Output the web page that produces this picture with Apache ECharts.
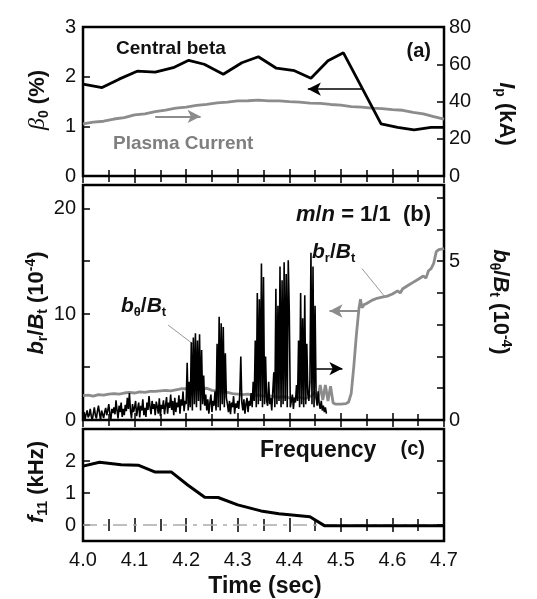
<!DOCTYPE html>
<html>
<head>
<meta charset="utf-8">
<script src="https://cdn.jsdelivr.net/npm/echarts@6/dist/echarts.min.js"></script>
<style>
  html, body { margin: 0; padding: 0; background: #fff; }
  #chart { width: 537px; height: 599px; }
</style>
</head>
<body>
<div id="chart"></div>
<script>
// (a) central beta (%) and plasma current (kA)
var betaTime = [4.000, 4.037, 4.070, 4.105, 4.140, 4.175, 4.205, 4.235, 4.272, 4.308, 4.340,
                4.375, 4.410, 4.442, 4.475, 4.505, 4.578, 4.610, 4.642, 4.675, 4.700];
var betaVal = [1.85, 1.78, 1.95, 2.11, 2.09, 2.18, 2.33, 2.25, 2.05, 2.28, 2.40,
               2.17, 2.12, 1.97, 2.32, 2.48, 1.05, 0.98, 0.93, 0.98, 0.98];
var ipTime = [4.00, 4.02, 4.04, 4.06, 4.08, 4.10, 4.12, 4.14, 4.16, 4.18, 4.20, 4.22, 4.24,
              4.26, 4.28, 4.30, 4.32, 4.34, 4.36, 4.38, 4.40, 4.42, 4.44, 4.46, 4.48, 4.50,
              4.52, 4.54, 4.56, 4.58, 4.60, 4.62, 4.64, 4.66, 4.68, 4.70];
var ipVal = [28.0, 28.9, 29.4, 30.6, 31.3, 32.8, 33.4, 34.6, 35.4, 36.4, 37.0, 37.9, 38.5,
             39.3, 39.7, 40.3, 40.4, 40.7, 40.3, 40.3, 39.9, 39.7, 39.1, 39.0, 38.4, 38.1,
             37.3, 37.0, 36.4, 36.2, 35.6, 35.3, 34.2, 33.4, 31.9, 30.5];

// (b) b_theta/B_t sampled every 2 ms from 4.000 s (right axis, 1e-4)
var bthStart = 4.0;
var bthStep = 0.002;
var bthVal = [
  0.10, 0.25, 0.02, 0.18, 0.30, 0.08, 0.15, 0.35, 0.12, 0.00,
  0.20, 0.40, 0.15, 0.05, 0.28, 0.45, 0.22, 0.00, 0.30, 0.18,
  0.06, 0.25, 0.38, 0.15, 0.30, 0.50, 0.20, 0.02, 0.35, 0.22,
  0.40, 0.18, 0.62, 0.30, 0.05, 0.45, 0.25, 0.55, 0.10, 0.35,
  0.15, 0.48, 0.28, 0.70, 0.35, 0.85, 0.30, 0.05, 0.50, 0.25,
  0.40, 0.60, 0.12, 0.35, 0.55, 0.08, 0.45, 0.30, 0.65, 0.15,
  0.38, 0.10, 0.55, 0.32, 0.75, 0.40, 0.18, 0.60, 0.35, 0.50,
  0.15, 0.58, 0.42, 0.20, 0.68, 0.12, 0.48, 0.35, 0.62, 0.18,
  0.45, 0.72, 0.20, 0.55, 0.38, 0.80, 0.32, 0.60, 0.15, 0.70,
  0.25, 0.55, 0.40, 0.78, 0.20, 0.65, 0.45, 0.90, 0.28, 0.60,
  0.50, 1.80, 0.30, 1.20, 0.40, 2.45, 0.30, 2.60, 0.50, 2.73,
  0.40, 2.50, 0.60, 2.70, 0.30, 2.20, 0.50, 1.40, 0.45, 0.80,
  0.30, 0.65, 0.20, 0.55, 0.80, 0.25, 0.60, 0.45, 0.90, 0.30,
  2.40, 0.40, 3.25, 0.30, 3.05, 0.50, 2.93, 0.40, 2.10, 0.70,
  0.50, 0.25, 0.60, 0.18, 0.55, 0.40, 0.75, 0.20, 0.52, 0.38,
  0.60, 0.35, 0.80, 2.00, 0.55, 0.30, 0.65, 0.20, 0.50, 0.70,
  0.25, 0.60, 0.45, 0.85, 0.40, 1.20, 0.60, 2.50, 0.40, 4.00,
  0.50, 3.80, 0.60, 4.93, 0.40, 4.50, 0.50, 2.00, 0.60, 0.45,
  1.20, 0.50, 0.70, 0.30, 0.90, 1.50, 0.40, 4.13, 0.50, 3.60,
  0.60, 4.83, 0.40, 4.40, 0.50, 4.97, 0.60, 4.60, 0.40, 5.03,
  3.40, 0.40, 0.60, 0.80, 0.35, 0.70, 0.55, 1.10, 0.60, 2.50,
  0.40, 4.00, 0.50, 3.20, 0.40, 3.93, 0.50, 2.40, 0.80, 0.60,
  1.20, 5.27, 0.50, 4.83, 0.40, 3.60, 0.70, 0.45, 0.90, 0.50,
  0.35, 0.60, 0.30, 0.45, 0.25, 0.40, 0.20
];
// (b) b_r/B_t (left axis, 1e-4)
var brTime = [4.00, 4.01, 4.02, 4.03, 4.04, 4.05, 4.06, 4.07, 4.08, 4.09,
              4.10, 4.11, 4.12, 4.13, 4.14, 4.15, 4.16, 4.17, 4.18, 4.19,
              4.20, 4.21, 4.22, 4.23, 4.24, 4.25, 4.26, 4.27, 4.28, 4.29,
              4.30, 4.31, 4.32, 4.33, 4.34, 4.35, 4.36, 4.37, 4.38, 4.39,
              4.40, 4.41, 4.42, 4.43, 4.44, 4.45, 4.455, 4.46, 4.465, 4.47,
              4.475, 4.48, 4.485, 4.49, 4.50, 4.51, 4.515, 4.52, 4.525, 4.53,
              4.535, 4.538, 4.541, 4.545, 4.55, 4.56, 4.57, 4.58, 4.59, 4.60,
              4.61, 4.615, 4.62, 4.63, 4.64, 4.65, 4.66, 4.665, 4.67, 4.675,
              4.68, 4.685, 4.69, 4.70];
var brVal = [2.30, 2.35, 2.25, 2.40, 2.35, 2.45, 2.50, 2.45, 2.55, 2.60,
             2.55, 2.65, 2.60, 2.70, 2.70, 2.75, 2.80, 2.75, 2.85, 2.95,
             2.95, 3.00, 3.05, 2.95, 3.00, 2.80, 2.75, 2.60, 2.60, 2.50,
             2.45, 2.40, 2.45, 2.30, 2.35, 2.25, 2.30, 2.20, 2.15, 2.20,
             2.10, 2.05, 2.15, 2.00, 2.20, 2.60, 1.80, 3.30, 1.90, 3.30,
             1.80, 3.20, 1.60, 1.50, 1.50, 1.55, 1.70, 2.50, 5.00, 8.00,
             10.50, 11.40, 10.60, 10.90, 11.00, 11.30, 11.50, 11.60, 11.70, 11.90,
             12.20, 12.00, 12.40, 12.70, 13.00, 13.30, 13.60, 13.40, 14.10, 14.30,
             14.80, 15.90, 16.10, 16.20];

// (c) f11 (kHz)
var freqTime = [4.000, 4.032, 4.074, 4.107, 4.139, 4.171, 4.203, 4.236, 4.262, 4.300,
                4.345, 4.380, 4.440, 4.468, 4.550, 4.620, 4.700];
var freqVal = [1.84, 1.96, 1.88, 1.87, 1.66, 1.66, 1.25, 0.87, 0.86, 0.63,
               0.44, 0.35, 0.26, -0.02, -0.02, -0.02, -0.02];

var FONT = '"Liberation Sans", Arial, Helvetica, sans-serif';
var SERIF = '"Liberation Serif", "DejaVu Serif", serif';
var GRAY = '#8c8c8c';

function pairs(ts, vs) {
  return ts.map(function(t, i) { return [t, vs[i]]; });
}
var bthData = bthVal.map(function(v, i) {
  return [+(bthStart + i * bthStep).toFixed(3), v];
});

function xAx(grid, pos, showLabel) {
  return {
    type: 'value', gridIndex: grid, position: pos, min: 4, max: 4.7, interval: 0.1,
    axisLine: { show: false }, splitLine: { show: false },
    axisTick: { inside: true, length: 7, lineStyle: { color: '#000', width: 1.5 } },
    minorTick: { show: true, splitNumber: 2, length: 6, lineStyle: { color: '#000', width: 1.5 } },
    axisLabel: {
      show: showLabel, margin: 9, fontSize: 20, color: '#111', fontFamily: FONT,
      formatter: function(v) { return v.toFixed(1); }
    }
  };
}

function yAx(grid, pos, min, max, interval, showLabel, keep) {
  return {
    type: 'value', gridIndex: grid, position: pos, min: min, max: max, interval: interval,
    axisLine: { show: false }, splitLine: { show: false },
    axisTick: { inside: true, length: 7, lineStyle: { color: '#000', width: 1.5 } },
    axisLabel: {
      show: showLabel, margin: pos === 'left' ? 7 : 5, fontSize: 20, color: '#111', fontFamily: FONT,
      formatter: function(v) {
        if (keep && keep.indexOf(v) < 0) return '';
        return String(v);
      }
    }
  };
}

function richSet(size, color) {
  var base = { fontFamily: FONT, fontWeight: 'bold', fontSize: size, fill: color };
  var small = Math.round(size * 0.62);
  var off = Math.round(size * 0.55);
  return {
    n: Object.assign({}, base),
    i: Object.assign({}, base, { fontStyle: 'italic' }),
    g: Object.assign({}, base, { fontStyle: 'italic', fontFamily: SERIF, fontWeight: 'normal', fontSize: size + 2 }),
    sub: Object.assign({}, base, { fontSize: small, padding: [off, 0, 0, 0] }),
    sup: Object.assign({}, base, { fontSize: small, padding: [0, 0, off, 0] })
  };
}

function txt(x, y, rot, text, size, color, align) {
  color = color || '#111';
  return {
    type: 'text', x: x, y: y, rotation: rot || 0, silent: true, z: 100,
    style: {
      text: text, rich: richSet(size, color), fill: color,
      align: align || 'center', verticalAlign: 'middle',
      font: 'bold ' + size + 'px ' + FONT
    }
  };
}

function arrow(from, to, color, width) {
  return [
    { coord: from, symbol: 'none', lineStyle: { color: color, width: width, type: 'solid' } },
    { coord: to, symbol: 'arrow', symbolSize: [10, 13] }
  ];
}
function leader(from, to) {
  return [
    { coord: from, symbol: 'none', lineStyle: { color: '#999', width: 1, type: 'solid' } },
    { coord: to, symbol: 'none' }
  ];
}

var chart = echarts.init(document.getElementById('chart'), null, { renderer: 'canvas' });

var gridBase = { left: 83, width: 361, show: true, borderColor: '#000', borderWidth: 2.5, backgroundColor: 'transparent' };

var option = {
  animation: false,
  backgroundColor: '#fff',
  grid: [
    Object.assign({ top: 27, height: 149 }, gridBase),
    Object.assign({ top: 185, height: 235 }, gridBase),
    Object.assign({ top: 429, height: 112 }, gridBase)
  ],
  xAxis: [
    xAx(0, 'bottom', false), xAx(0, 'top', false),
    xAx(1, 'bottom', false), xAx(1, 'top', false),
    xAx(2, 'bottom', true), xAx(2, 'top', false)
  ],
  yAxis: [
    yAx(0, 'left', 0, 3, 1, true),
    yAx(0, 'right', 0, 80, 20, true),
    yAx(1, 'left', 0, 22.2, 5, true, [0, 10, 20]),
    yAx(1, 'right', 0, 7.4, 1, true, [0, 5]),
    yAx(2, 'left', -0.5, 3, 0.5, true, [0, 1, 2]),
    yAx(2, 'right', -0.5, 3, 0.5, false)
  ],
  series: [
    {
      type: 'line', xAxisIndex: 0, yAxisIndex: 0, data: pairs(betaTime, betaVal),
      showSymbol: false, lineStyle: { color: '#000', width: 2.8 }, z: 5,
      markLine: { silent: true, label: { show: false }, symbol: ['none', 'arrow'],
        data: [arrow([4.541, 1.75], [4.436, 1.75], '#000', 1.5)],
        itemStyle: { color: '#000' } }
    },
    {
      type: 'line', xAxisIndex: 0, yAxisIndex: 1, data: pairs(ipTime, ipVal),
      showSymbol: false, lineStyle: { color: GRAY, width: 2.8 }, z: 4,
      markLine: { silent: true, label: { show: false }, symbol: ['none', 'arrow'],
        data: [arrow([4.14, 32], [4.228, 32], GRAY, 1.8)],
        itemStyle: { color: GRAY } }
    },
    {
      type: 'line', xAxisIndex: 2, yAxisIndex: 2, data: pairs(brTime, brVal),
      showSymbol: false, lineStyle: { color: GRAY, width: 2.8 }, z: 4,
      markLine: { silent: true, label: { show: false }, symbol: ['none', 'arrow'],
        data: [arrow([4.537, 10.3], [4.478, 10.3], GRAY, 2), leader([4.541, 14.3], [4.586, 11.6])],
        itemStyle: { color: GRAY } }
    },
    {
      type: 'line', xAxisIndex: 2, yAxisIndex: 3, data: bthData,
      showSymbol: false, lineStyle: { color: '#000', width: 1.6 }, z: 5,
      markLine: { silent: true, label: { show: false }, symbol: ['none', 'arrow'],
        data: [arrow([4.452, 1.62], [4.503, 1.62], '#000', 1.5), leader([4.165, 2.99], [4.216, 2.36])],
        itemStyle: { color: '#000' } }
    },
    {
      type: 'line', xAxisIndex: 4, yAxisIndex: 4, data: [[4.0, 0], [4.7, 0]],
      showSymbol: false, lineStyle: { color: '#aaa', width: 1.5, type: [14, 6, 4, 6] }, z: 3
    },
    {
      type: 'line', xAxisIndex: 4, yAxisIndex: 4, data: pairs(freqTime, freqVal),
      showSymbol: false, lineStyle: { color: '#000', width: 3 }, z: 5
    }
  ],
  graphic: [
    txt(116, 49, 0, '{n|Central beta}', 19, '#111', 'left'),
    txt(431, 51, 0, '{n|(a)}', 20, '#111', 'right'),
    txt(113, 144, 0, '{n|Plasma Current}', 19, '#7f7f7f', 'left'),
    txt(38, 100, Math.PI / 2, '{g|β}{sub|0}{n| (%)}', 22),
    txt(506, 114, -Math.PI / 2, '{i|I}{sub|p}{n| (kA)}', 22),
    txt(431, 215, 0, '{i|m}{n|/}{i|n}{n| = 1/1  (b)}', 22, '#111', 'right'),
    txt(312, 252, 0, '{i|b}{sub|r}{n|/}{i|B}{sub|t}', 21, '#111', 'left'),
    txt(121, 306, 0, '{i|b}{sub|θ}{n|/}{i|B}{sub|t}', 21, '#111', 'left'),
    txt(37, 303, Math.PI / 2, '{i|b}{sub|r}{n|/}{i|B}{sub|t}{n| (10}{sup|-4}{n|)}', 22),
    txt(500, 302, -Math.PI / 2, '{i|b}{sub|θ}{n|/}{i|B}{sub|t}{n| (10}{sup|-4}{n|)}', 22),
    txt(260, 451, 0, '{n|Frequency}', 23, '#111', 'left'),
    txt(425, 449, 0, '{n|(c)}', 20, '#111', 'right'),
    txt(37, 482, Math.PI / 2, '{i|f}{sub|11}{n| (kHz)}', 22),
    txt(265, 587, 0, '{n|Time (sec)}', 23)
  ]
};

// panel (c) ticks only at whole kHz
option.yAxis[4].axisTick.customValues = [0, 1, 2];
option.yAxis[4].axisLabel.customValues = [0, 1, 2];
option.yAxis[5].axisTick.customValues = [0, 1, 2];

chart.setOption(option);
</script>
</body>
</html>
